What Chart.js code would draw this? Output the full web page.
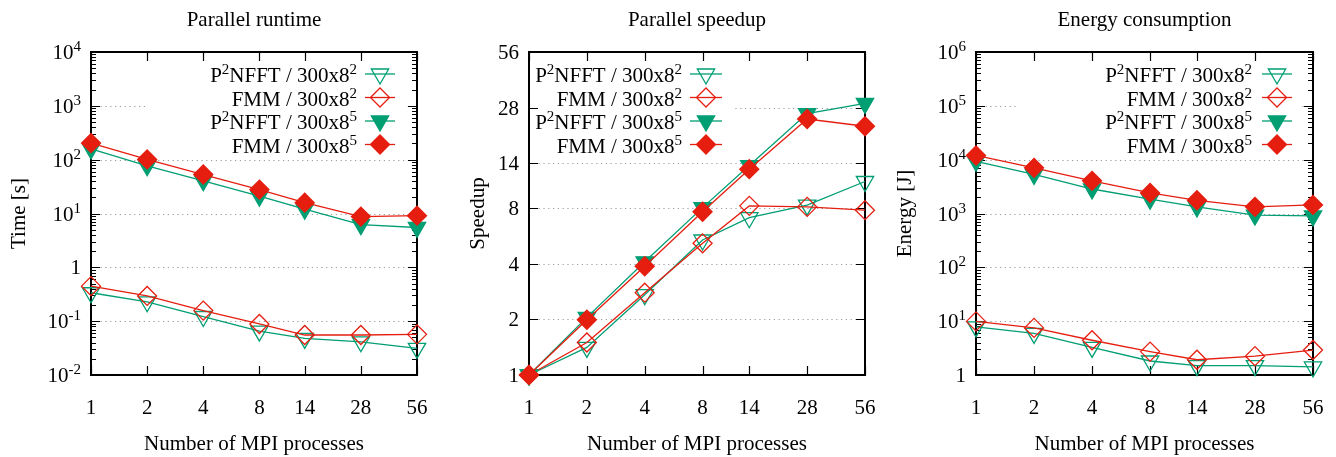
<!DOCTYPE html>
<html>
<head>
<meta charset="utf-8">
<script src="https://cdn.jsdelivr.net/npm/chart.js@4.4.0/dist/chart.umd.min.js"></script>
<style>
  html, body { margin: 0; padding: 0; background: #fff; }
  #wrap { display: flex; width: 1336px; height: 457px; }
  canvas { display: block; }
</style>
</head>
<body>
<div id="wrap">
  <canvas id="c1" width="445" height="457"></canvas>
  <canvas id="c2" width="445" height="457"></canvas>
  <canvas id="c3" width="446" height="457"></canvas>
</div>
<script>
// number of MPI processes (x axis, log2 spaced)
const procs = [1, 2, 4, 8, 14, 28, 56];
const seriesNames = ['P^2NFFT / 300x8^2', 'FMM / 300x8^2', 'P^2NFFT / 300x8^5', 'FMM / 300x8^5'];

// parallel runtime [s]
const timeP2nfftSmall = [0.337, 0.229, 0.122, 0.0655, 0.048, 0.0414, 0.0313];
const timeFmmSmall    = [0.447, 0.294, 0.157, 0.0887, 0.0553, 0.0553, 0.0569];
const timeP2nfftLarge = [158, 77, 40.5, 21, 12, 6.2, 5.5];
const timeFmmLarge    = [203, 101, 53, 27.8, 15.9, 8.75, 9.1];

// parallel speedup
const speedupP2nfftSmall = [1, 1.41, 2.72, 5.38, 7.1, 8.3, 11.15];
const speedupFmmSmall    = [1, 1.5, 2.79, 5.16, 8.23, 8.13, 7.8];
const speedupP2nfftLarge = [1, 2.05, 4.1, 8.05, 13.6, 26, 29.5];
const speedupFmmLarge    = [1, 1.99, 3.88, 7.65, 13.0, 24.3, 22.2];

// energy consumption [J]
const energyP2nfftSmall = [7.83, 5.92, 3.26, 1.82, 1.49, 1.49, 1.41];
const energyFmmSmall    = [9.9, 7.5, 4.42, 2.72, 1.92, 2.24, 2.91];
const energyP2nfftLarge = [9330, 5330, 2850, 1850, 1330, 935, 900];
const energyFmmLarge    = [11970, 7050, 4050, 2410, 1760, 1330, 1443];

// tick values
const xTicks = [1, 2, 4, 8, 14, 28, 56];
const timeTicks = [1e-2, 1e-1, 1, 10, 100, 1000, 10000];
const speedupTicks = [1, 2, 4, 8, 14, 28, 56];
const energyTicks = [1, 10, 100, 1000, 10000, 100000, 1000000];

const GREEN = '#009e73';
const RED = '#e51e10';
const FAMILY = '"Liberation Serif", "Times New Roman", serif';
const MAIN_FONT = '21px ' + FAMILY;
const SUP_FONT = '15px ' + FAMILY;

const seriesStyles = [
  { color: GREEN, shape: 'triangle', rotation: 180, radius: 10, filled: false },
  { color: RED, shape: 'rectRot', rotation: 0, radius: 9.5, filled: false },
  { color: GREEN, shape: 'triangle', rotation: 180, radius: 10, filled: true },
  { color: RED, shape: 'rectRot', rotation: 0, radius: 9.5, filled: true }
];

function parseRich(s) {
  const parts = [];
  const re = /\^(-?\d+)/g;
  let last = 0, m;
  while ((m = re.exec(s))) {
    if (m.index > last) parts.push({ t: s.slice(last, m.index) });
    parts.push({ t: m[1], sup: true });
    last = re.lastIndex;
  }
  if (last < s.length) parts.push({ t: s.slice(last) });
  return parts;
}

function drawRich(ctx, s, x, y, align) {
  const parts = parseRich(s);
  const widths = parts.map(p => {
    ctx.font = p.sup ? SUP_FONT : MAIN_FONT;
    return ctx.measureText(p.t).width;
  });
  const total = widths.reduce((a, b) => a + b, 0);
  let cx = align === 'right' ? x - total : align === 'center' ? x - total / 2 : x;
  ctx.textAlign = 'left';
  ctx.textBaseline = 'alphabetic';
  parts.forEach((p, i) => {
    ctx.font = p.sup ? SUP_FONT : MAIN_FONT;
    ctx.fillText(p.t, cx, p.sup ? y - 8 : y);
    cx += widths[i];
  });
}

function logLabel(v) {
  const e = Math.round(Math.log10(v));
  return e === 0 ? '1' : '10^' + e;
}

function makeChart(id, cfg) {
  const canvas = document.getElementById(id);
  const W = canvas.width, H = canvas.height;
  const a = cfg.area;

  const yTickList = [];
  cfg.yTicks.forEach((v, i) => {
    yTickList.push({ value: v, major: true });
    if (cfg.minor && i < cfg.yTicks.length - 1) {
      for (let k = 2; k <= 9; k++) yTickList.push({ value: k * v, major: false });
    }
  });

  const datasets = cfg.series.map((vals, i) => {
    const st = seriesStyles[i];
    return {
      label: seriesNames[i],
      data: procs.map((p, j) => ({ x: p, y: vals[j] })),
      borderColor: st.color,
      backgroundColor: st.color,
      borderWidth: 1.3,
      pointStyle: st.shape,
      pointRotation: st.rotation,
      pointRadius: st.radius,
      pointHoverRadius: st.radius,
      pointBorderWidth: 1.3,
      pointBorderColor: st.color,
      pointBackgroundColor: st.filled ? st.color : 'rgba(0,0,0,0)',
      tension: 0,
      clip: false,
      order: 3 - i
    };
  });

  const framePlugin = {
    id: 'frame' + id,
    beforeDatasetsDraw(chart) {
      const ctx = chart.ctx;
      const ca = chart.chartArea;
      const xs = chart.scales.x, ys = chart.scales.y;
      ctx.save();
      // dotted grid at major y ticks
      ctx.strokeStyle = '#9a9a9a';
      ctx.lineWidth = 1;
      ctx.setLineDash([1.2, 3.6]);
      ys.ticks.forEach(t => {
        if (!t.major) return;
        const y = Math.round(ys.getPixelForValue(t.value)) + 0.5;
        if (y <= ca.top + 2 || y >= ca.bottom - 2) return;
        ctx.beginPath();
        ctx.moveTo(ca.left, y);
        ctx.lineTo(ca.right, y);
        ctx.stroke();
      });
      ctx.setLineDash([]);
      // opaque key box
      ctx.fillStyle = '#fff';
      const k = cfg.key;
      ctx.fillRect(k.x0, k.y0, k.x1 - k.x0, k.y1 - k.y0);
      // ticks
      ctx.strokeStyle = '#000';
      ctx.lineWidth = 1.2;
      ys.ticks.forEach(t => {
        const y = Math.round(ys.getPixelForValue(t.value)) + 0.5;
        const len = t.major ? 9 : 5;
        ctx.beginPath();
        ctx.moveTo(ca.left, y); ctx.lineTo(ca.left + len, y);
        ctx.moveTo(ca.right, y); ctx.lineTo(ca.right - len, y);
        ctx.stroke();
      });
      xs.ticks.forEach(t => {
        const x = Math.round(xs.getPixelForValue(t.value)) + 0.5;
        ctx.beginPath();
        ctx.moveTo(x, ca.bottom); ctx.lineTo(x, ca.bottom - 9);
        ctx.moveTo(x, ca.top); ctx.lineTo(x, ca.top + 9);
        ctx.stroke();
      });
      // border
      ctx.lineWidth = 2;
      ctx.strokeRect(ca.left, ca.top, ca.right - ca.left, ca.bottom - ca.top);
      // labels
      ctx.fillStyle = '#000';
      ys.ticks.forEach(t => {
        if (!t.major) return;
        const y = ys.getPixelForValue(t.value);
        drawRich(ctx, cfg.yLabel(t.value), ca.left - 10, y + 7, 'right');
      });
      xs.ticks.forEach(t => {
        drawRich(ctx, String(t.value), xs.getPixelForValue(t.value), 414, 'center');
      });
      const cx = (ca.left + ca.right) / 2;
      drawRich(ctx, cfg.title, cx, 26, 'center');
      drawRich(ctx, 'Number of MPI processes', cx, 450, 'center');
      ctx.save();
      ctx.translate(cfg.yTitleX, (ca.top + ca.bottom) / 2);
      ctx.rotate(-Math.PI / 2);
      drawRich(ctx, cfg.yTitle, 0, 0, 'center');
      ctx.restore();
      ctx.restore();
    },
    afterDatasetsDraw(chart) {
      const ctx = chart.ctx;
      const k = cfg.key;
      const rows = [74, 97.5, 121, 144.5];
      ctx.save();
      seriesNames.forEach((name, i) => {
        const st = seriesStyles[i];
        const y = rows[i];
        ctx.fillStyle = '#000';
        drawRich(ctx, name, k.textRight, y + 8, 'right');
        ctx.strokeStyle = st.color;
        ctx.lineWidth = 1.3;
        ctx.beginPath();
        ctx.moveTo(k.s0, y); ctx.lineTo(k.s1, y);
        ctx.stroke();
        ctx.fillStyle = st.filled ? st.color : 'rgba(0,0,0,0)';
        Chart.helpers.drawPoint(ctx, {
          pointStyle: st.shape, rotation: st.rotation, radius: st.radius, borderWidth: 1.3
        }, (k.s0 + k.s1) / 2, y);
      });
      ctx.restore();
    }
  };

  return new Chart(canvas, {
    type: 'line',
    data: { datasets },
    options: {
      responsive: false,
      animation: false,
      devicePixelRatio: 1,
      events: [],
      layout: { padding: { left: a.l, top: a.t, right: W - a.r, bottom: H - a.b } },
      plugins: { legend: { display: false }, title: { display: false }, tooltip: { enabled: false } },
      scales: {
        x: {
          type: 'logarithmic', min: 1, max: 56, bounds: 'data',
          afterBuildTicks: s => { s.ticks = xTicks.map(v => ({ value: v })); },
          ticks: { display: false }, grid: { display: false }, border: { display: false }
        },
        y: {
          type: 'logarithmic', min: cfg.yTicks[0], max: cfg.yTicks[cfg.yTicks.length - 1], bounds: 'data',
          afterBuildTicks: s => { s.ticks = yTickList.map(t => ({ value: t.value, major: t.major })); },
          ticks: { display: false }, grid: { display: false }, border: { display: false }
        }
      }
    },
    plugins: [framePlugin]
  });
}

makeChart('c1', {
  title: 'Parallel runtime',
  yTitle: 'Time [s]',
  yTitleX: 25,
  series: [timeP2nfftSmall, timeFmmSmall, timeP2nfftLarge, timeFmmLarge],
  yTicks: timeTicks, minor: true, yLabel: logLabel,
  area: { l: 83, t: 52, r: 417, b: 383 },
  key: { x0: 147, x1: 406, y0: 62, y1: 157, textRight: 357, s0: 365, s1: 395 }
});

makeChart('c2', {
  title: 'Parallel speedup',
  yTitle: 'Speedup',
  yTitleX: 39,
  series: [speedupP2nfftSmall, speedupFmmSmall, speedupP2nfftLarge, speedupFmmLarge],
  yTicks: speedupTicks, minor: false, yLabel: v => String(v),
  area: { l: 76, t: 52, r: 420, b: 383 },
  key: { x0: 76, x1: 287, y0: 62, y1: 157, textRight: 237, s0: 245, s1: 277 }
});

makeChart('c3', {
  title: 'Energy consumption',
  yTitle: 'Energy [J]',
  yTitleX: 21,
  series: [energyP2nfftSmall, energyFmmSmall, energyP2nfftLarge, energyFmmLarge],
  yTicks: energyTicks, minor: true, yLabel: logLabel,
  area: { l: 78, t: 52, r: 423, b: 383 },
  key: { x0: 127, x1: 412, y0: 62, y1: 157, textRight: 362, s0: 372, s1: 402 }
});
</script>
</body>
</html>
